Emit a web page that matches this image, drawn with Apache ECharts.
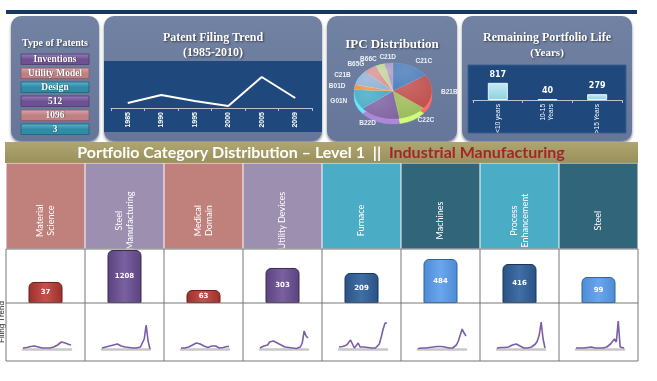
<!DOCTYPE html>
<html><head><meta charset="utf-8">
<script src="https://cdn.jsdelivr.net/npm/echarts@6.0.0/dist/echarts.min.js"></script>
<style>html,body{margin:0;padding:0;background:#fff}#c{width:657px;height:381px}</style>
</head><body><div id="c"></div><script>
// ---------- data ----------
const patentTypes = ['Inventions', 'Utility Model', 'Design'];
const patentTypeCounts = [512, 1096, 3];
const trendYears = ['1985', '1990', '1995', '2000', '2005', '2009'];
const trendValues = [50, 130, 70, 20, 310, 100];
const ipcCodes = ['C21C', 'B21B', 'C22C', 'B22D', 'G01N', 'B01D', 'C21B', 'B65G', 'B66C', 'C21D'];
const ipcValues = [155, 200, 117, 170, 114, 28, 86, 53, 40, 35];
const lifeCategories = ['<10 years', '10-15\nYears', '>15 Years'];
const lifeValues = [817, 40, 279];
const categories = ['Material\nScience', 'Steel\nManufacturing', 'Medical\nDomain', 'Utility Devices', 'Furnace', 'Machines', 'Process\nEnhancement', 'Steel'];
const categoryCounts = [37, 1208, 63, 303, 209, 484, 416, 99];
const categoryAxisMax = [95, 1231, 262, 467, 376, 594, 576, 206];
const sparkYears = ['1985','1986','1987','1988','1989','1990','1991','1992','1993','1994','1995','1996','1997','1998','1999','2000','2001','2002','2003','2004','2005','2006','2007','2008','2009','2010'];
const sparkMaterialScience = [1,1,1.5,2,2.5,3,3,2.5,2,1.5,1,1,1,1,1,1.5,2,3,4,6,7,6.5,6,5,4.5,4];
const sparkSteelManufacturing = [1,1.5,2,2,3,2.5,4,3,5,4,3,4,2,2,1.5,1,1,1.5,1,1.5,2,4,10,24,8,0];
const sparkMedicalDomain = [1,1,1,1.5,2,3,4,5,6,5,5,4,3,2,1.5,2,3,4,3,2,1,1,1.5,2,2.5,2.5];
const sparkUtilityDevices = [1,2,3,5,4,7,5,8,6,6,4,4,3,2,2,1.5,1,1,1,0.5,1,2,6,18,13,11];
const sparkFurnace = [2,2,2.5,2,4,6,9,5,1,3,6,2,1,2,2,1.5,1,1,1,1,1,5,12,20,26,26];
const sparkMachines = [0.5,0.5,1,1,1,1.5,1.5,2,2,2,2.5,2.5,2.5,2,2,1.5,1,0.5,1,2,4,8,14,20,16,13];
const sparkProcessEnhancement = [1,1.5,1.5,2,1.5,2.5,2,3,4,6,5,3,3,2,1,1,1,1.5,2,3,5,8,14,27,10,1];
const sparkSteel = [1,1,1,1.5,1,1,1.5,1,2,3,1,2,1,1.5,1,1.5,2,3,5,7,10,7,28,2,1,1];
const sparkSeries = [sparkMaterialScience, sparkSteelManufacturing, sparkMedicalDomain, sparkUtilityDevices, sparkFurnace, sparkMachines, sparkProcessEnhancement, sparkSteel];

// ---------- styles ----------
const headerColors = ['#c0807c', '#9d8fb0', '#c0807c', '#9d8fb0', '#4bacc6', '#31667a', '#4bacc6', '#31667a'];
const barColors = [
  ['#c4524c', '#9a302c', '#6e1f1c'], ['#7a60a0', '#5a437d', '#3a2b52'],
  ['#c4524c', '#9a302c', '#6e1f1c'], ['#7a60a0', '#5a437d', '#3a2b52'],
  ['#3f6fa6', '#2a5283', '#1a3559'], ['#6aa6ec', '#4d8bd6', '#2f62a0'],
  ['#3f6fa6', '#2a5283', '#1a3559'], ['#6aa6ec', '#4d8bd6', '#2f62a0']
];
const ipcColors = ['#4f81bd', '#c0504d', '#9bbb59', '#8064a2', '#4bacc6', '#f79646', '#95b3d7', '#d99694', '#c3d69b', '#b3a2c7'];
const buttonColors = [['#9a80bd', '#6e5192', '#4e3a6a'], ['#dca8ac', '#c07f85', '#8e5a5f'], ['#5bb8d0', '#2f8ba6', '#1f6276']];
const COL0 = 6, COLW = 79;
const serif = 'Liberation Serif';

const chart = echarts.init(document.getElementById('c'));
const grids = [], xAxes = [], yAxes = [], series = [];

// trend line
grids.push({left: 111, top: 73, width: 201, height: 35});
xAxes.push({type: 'category', gridIndex: 0, data: trendYears,
  axisLine: {lineStyle: {color: '#b9c2d0', width: 1}},
  axisTick: {show: true, length: 3, lineStyle: {color: '#b9c2d0'}},
  axisLabel: {rotate: 90, color: '#fff', fontSize: 7, fontWeight: 'bold', fontFamily: 'Liberation Sans', margin: 4}});
yAxes.push({type: 'value', gridIndex: 0, min: 0, max: 350, show: false});
series.push({type: 'line', xAxisIndex: 0, yAxisIndex: 0, data: trendValues, symbol: 'none', silent: true,
  lineStyle: {color: '#fff', width: 2}});

// remaining life bars
grids.push({left: 473, top: 79, width: 149, height: 21});
xAxes.push({type: 'category', gridIndex: 1, data: lifeCategories,
  axisLine: {lineStyle: {color: '#b9c2d0', width: 1}},
  axisTick: {show: true, length: 3, lineStyle: {color: '#b9c2d0'}},
  axisLabel: {rotate: 90, color: '#fff', fontSize: 6.5, lineHeight: 8, fontFamily: 'Liberation Sans', margin: 4}});
yAxes.push({type: 'value', gridIndex: 1, min: 0, max: 1000, show: false});
series.push({type: 'bar', xAxisIndex: 1, yAxisIndex: 1, data: lifeValues, barWidth: 20, silent: true,
  itemStyle: {color: new echarts.graphic.LinearGradient(0, 0, 0, 1, [{offset: 0, color: '#c4ecf5'}, {offset: 1, color: '#8fd0e2'}]), borderColor: '#e6f6fa', borderWidth: 1},
  label: {show: true, position: 'top', color: '#fff', fontSize: 8, fontWeight: 'bold', fontFamily: 'DejaVu Sans', distance: 4}});

// header cells
grids.push({left: COL0, top: 163, width: COLW * 8, height: 86});
xAxes.push({type: 'category', gridIndex: 2, data: categories, show: false});
yAxes.push({type: 'value', gridIndex: 2, min: 0, max: 1, show: false});
series.push({type: 'bar', xAxisIndex: 2, yAxisIndex: 2, barWidth: '100%', silent: true,
  data: categories.map((c, i) => ({value: 1, itemStyle: {color: headerColors[i]}})),
  itemStyle: {borderColor: 'rgba(255,255,255,0.55)', borderWidth: 0.6},
  label: {show: true, formatter: p => p.name, rotate: 90, position: ['50%', '67%'], align: 'center', verticalAlign: 'middle',
    color: '#fff', fontSize: 9, lineHeight: 11, fontFamily: 'Lato'}});

// category bars
categoryCounts.forEach((v, i) => {
  const gi = grids.length;
  grids.push({left: COL0 + COLW * i, top: 249, width: COLW, height: 54});
  xAxes.push({type: 'category', gridIndex: gi, data: [categories[i]], show: false});
  yAxes.push({type: 'value', gridIndex: gi, min: 0, max: categoryAxisMax[i], show: false});
  const c = barColors[i];
  series.push({type: 'bar', xAxisIndex: gi, yAxisIndex: gi, data: [v], barWidth: 34, silent: true,
    itemStyle: {color: new echarts.graphic.LinearGradient(0, 0, 1, 0, [{offset: 0, color: c[1]}, {offset: 0.5, color: c[0]}, {offset: 1, color: c[1]}]),
      borderColor: c[2], borderWidth: 1, borderRadius: [5, 5, 0, 0]},
    label: {show: true, position: 'inside', color: '#fff', fontSize: 7, fontWeight: 'bold', fontFamily: 'DejaVu Sans'}});
});

// sparklines
sparkSeries.forEach((d, i) => {
  const gi = grids.length;
  grids.push({left: COL0 + COLW * i + 17, top: 321, width: 48, height: 28});
  xAxes.push({type: 'category', gridIndex: gi, data: sparkYears, boundaryGap: false,
    axisLine: {show: true, lineStyle: {color: '#c8c8c8', width: 2.5}}, axisTick: {show: false}, axisLabel: {show: false}});
  yAxes.push({type: 'value', gridIndex: gi, min: 0, max: 28, show: false});
  series.push({type: 'line', xAxisIndex: gi, yAxisIndex: gi, data: d, symbol: 'none', silent: true,
    lineStyle: {color: '#7b5ea8', width: 1.6}});
});

// IPC pie (tilted, custom series)
const ipcTotal = ipcValues.reduce((a, b) => a + b, 0);
const pieCx = 393, pieCy = 91, pieR = 39, pieSq = 0.72, pieDepth = 5;
series.push({type: 'custom', coordinateSystem: 'none', silent: true, data: ipcValues.map((v, i) => [v, i]),
  renderItem: (params, api) => {
    const i = params.dataIndex;
    let cum = 0; for (let k = 0; k < i; k++) cum += ipcValues[k];
    const s = -Math.PI / 2 + 2 * Math.PI * cum / ipcTotal;
    const e = s + 2 * Math.PI * api.value(0) / ipcTotal;
    const m = (s + e) / 2;
    const col = ipcColors[i];
    const dark = echarts.color.lift(col, -0.35);
    const light = echarts.color.lift(col, 0.15);
    const cs = Math.cos(m);
    const lx = pieCx + 48 * cs, ly = pieCy + 34 * Math.sin(m);
    return {type: 'group', children: [
      {type: 'group', x: pieCx, y: pieCy, scaleY: pieSq, children: [
        {type: 'sector', z2: 1, shape: {cx: 0, cy: pieDepth / pieSq, r: pieR, r0: 0, startAngle: s, endAngle: e, clockwise: true},
          style: {fill: dark, stroke: dark, lineWidth: 0.5}},
        {type: 'sector', z2: 5, shape: {cx: 0, cy: 0, r: pieR, r0: 0, startAngle: s, endAngle: e, clockwise: true},
          style: {fill: new echarts.graphic.RadialGradient(0.35, 0.3, 0.9, [{offset: 0, color: light}, {offset: 1, color: col}]), stroke: 'rgba(255,255,255,0.25)', lineWidth: 0.4}}
      ]},
      {type: 'text', z2: 10, x: lx, y: ly, style: {text: ipcCodes[i], fill: '#eef1f7', font: 'bold 6.5px "Liberation Sans"',
        align: Math.abs(cs) < 0.2 ? 'center' : (cs > 0 ? 'left' : 'right'), verticalAlign: 'middle'}}
    ]};
  }});

// ---------- decorative graphics ----------
const g = [];
g.push({type: 'rect', shape: {x: 6, y: 10, width: 631, height: 4}, style: {fill: '#17375e'}});
function panel(x, y, w, h) {
  g.push({type: 'rect', shape: {x, y, width: w, height: h, r: 10},
    style: {fill: new echarts.graphic.LinearGradient(0, 0, 0, 1, [{offset: 0, color: '#7282a2'}, {offset: 1, color: '#66769a'}]),
      shadowBlur: 3, shadowOffsetY: 2, shadowColor: 'rgba(20,30,60,0.55)'}});
}
panel(11, 16, 88, 125);
panel(104, 16, 218, 125);
panel(327, 16, 130, 125);
panel(462, 16, 170, 125);
g.push({type: 'rect', shape: {x: 104, y: 61, width: 218, height: 71}, style: {fill: '#1f497d'}});
g.push({type: 'rect', shape: {x: 468, y: 65, width: 158, height: 68}, style: {fill: '#1f497d', stroke: '#3a5f8f', lineWidth: 1}});
const titleStyle = (t, x, y, size) => ({type: 'text', x, y, style: {text: t, fill: '#fff', font: 'bold ' + size + 'px "' + serif + '"',
  align: 'center', verticalAlign: 'middle', textShadowColor: 'rgba(0,0,0,0.55)', textShadowBlur: 2, textShadowOffsetX: 1, textShadowOffsetY: 1}});
g.push(titleStyle('Type of Patents', 55, 43, 10));
g.push(titleStyle('Patent Filing Trend', 213, 38, 12));
g.push(titleStyle('(1985-2010)', 213, 53, 12));
g.push(titleStyle('IPC Distribution', 392, 45, 13));
g.push(titleStyle('Remaining Portfolio Life', 547, 38, 12));
g.push(titleStyle('(Years)', 547, 53, 11));
const buttonTexts = patentTypes.concat(patentTypeCounts.map(String));
buttonTexts.forEach((t, i) => {
  const c = buttonColors[i % 3];
  const y = 54 + i * 14;
  g.push({type: 'rect', shape: {x: 21, y, width: 68, height: 10.5},
    style: {fill: new echarts.graphic.LinearGradient(0, 0, 0, 1, [{offset: 0, color: c[0]}, {offset: 0.5, color: c[1]}, {offset: 1, color: c[1]}]), stroke: c[2], lineWidth: 0.8}});
  g.push({type: 'text', x: 55, y: y + 5.5, style: {text: t, fill: '#fff', font: 'bold 9.5px "' + serif + '"', align: 'center', verticalAlign: 'middle',
    textShadowColor: 'rgba(0,0,0,0.6)', textShadowBlur: 1, textShadowOffsetX: 0.5, textShadowOffsetY: 0.5}});
});
// gold band
g.push({type: 'rect', shape: {x: 5, y: 142, width: 633, height: 21},
  style: {fill: new echarts.graphic.LinearGradient(0, 0, 0, 1, [{offset: 0, color: '#aea571'}, {offset: 1, color: '#9a905c'}])}});
g.push({type: 'text', x: 321, y: 152.5, style: {
  text: '{w|Portfolio Category Distribution \u2013 Level 1  ||  }{r|Industrial Manufacturing}',
  rich: {w: {fill: '#fff', font: 'bold 16px Lato'}, r: {fill: '#a3262a', font: 'bold 16px Lato'}},
  align: 'center', verticalAlign: 'middle'}});
// table lines
[249, 303, 361].forEach(y => g.push({type: 'line', shape: {x1: COL0, y1: y, x2: COL0 + COLW * 8, y2: y}, style: {stroke: '#777', lineWidth: 1}, z: 10}));
for (let i = 0; i <= 8; i++) g.push({type: 'line', shape: {x1: COL0 + COLW * i, y1: 249, x2: COL0 + COLW * i, y2: 361}, style: {stroke: '#777', lineWidth: 1}, z: 10});
g.push({type: 'text', x: 2, y: 322, rotation: Math.PI / 2, style: {text: 'Filing Trend', fill: '#222', font: '8px "Liberation Sans"', align: 'center', verticalAlign: 'middle'}});

chart.setOption({animation: false, grid: grids, xAxis: xAxes, yAxis: yAxes, series, graphic: {elements: g}});
</script></body></html>
